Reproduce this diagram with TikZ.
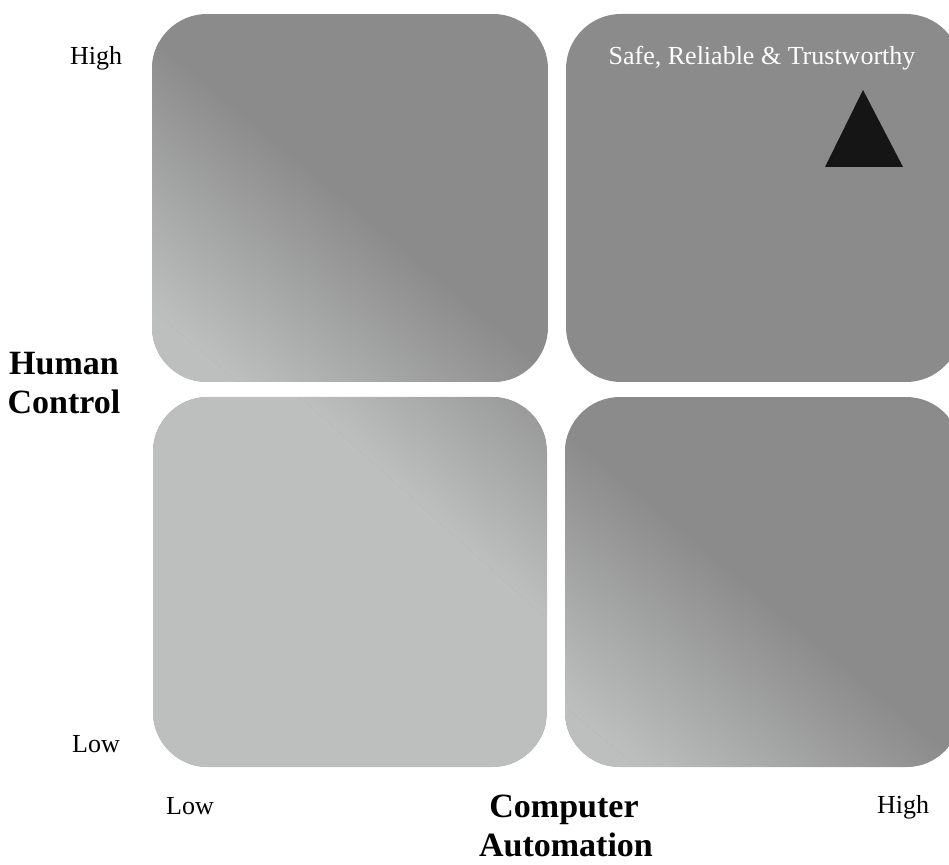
\documentclass[tikz,border=0pt]{standalone}
\usepackage{fontspec}
\setmainfont{Liberation Serif}
\begin{document}
\begin{tikzpicture}[x=1pt,y=1pt,
  lbl/.style={anchor=base,inner sep=0pt,font=\fontsize{26}{30}\selectfont},
  axislbl/.style={anchor=base,inner sep=0pt,font=\fontsize{34}{40}\selectfont\bfseries},
  panel/.style={rounded corners=55pt}]
\definecolor{panellight}{HTML}{BDBEBE}
\definecolor{paneldark}{HTML}{8B8B8B}
\definecolor{marker}{HTML}{151515}
\useasboundingbox (0,0) rectangle (949,864);

% top-left panel: light lower-left corner fading to dark
\begin{scope}
  \clip[panel] (152,482) rectangle (548,850);
  \fill[paneldark] (152,482) rectangle (548,850);
  \begin{scope}[transform canvas={shift={(220,497)},rotate=-40}]
    \fill[panellight] (-900,-900) rectangle (900,0);
    \shade[bottom color=panellight,top color=paneldark] (-900,0) rectangle (900,210);
  \end{scope}
\end{scope}

% top-right panel: uniform dark
\fill[paneldark,panel] (566,482) rectangle (961,850);

% bottom-left panel: light, darkening towards the upper-right corner
\begin{scope}
  \clip[panel] (153,97) rectangle (547,467);
  \fill[paneldark] (153,97) rectangle (547,467);
  \begin{scope}[transform canvas={shift={(300,467)},rotate=-42}]
    \fill[panellight] (-900,-900) rectangle (900,0);
    \shade[bottom color=panellight,top color=paneldark] (-900,0) rectangle (900,205);
  \end{scope}
\end{scope}

% bottom-right panel: same fade as the top-left one
\begin{scope}
  \clip[panel] (565,97) rectangle (961,467);
  \fill[paneldark] (565,97) rectangle (961,467);
  \begin{scope}[transform canvas={shift={(625,107)},rotate=-40}]
    \fill[panellight] (-900,-900) rectangle (900,0);
    \shade[bottom color=panellight,top color=paneldark] (-900,0) rectangle (900,212);
  \end{scope}
\end{scope}

% marker in the top-right panel
\fill[marker] (863,774) -- (825,697) -- (903,697) -- cycle;
\node[lbl,text=white] (goal) at (762,799) {Safe, Reliable \& Trustworthy};

% axis labels
\node[lbl] (yhigh) at (96,799) {High};
\node[lbl] (ylow) at (96,112) {Low};
\node[lbl] (xlow) at (190,50) {Low};
\node[lbl] (xhigh) at (903,51) {High};
\node[axislbl] (ytitleA) at (64,489) {Human};
\node[axislbl] (ytitleB) at (64,450) {Control};
\node[axislbl] (xtitleA) at (564,47) {Computer};
\node[axislbl] (xtitleB) at (566,8) {Automation};
\end{tikzpicture}
\end{document}
